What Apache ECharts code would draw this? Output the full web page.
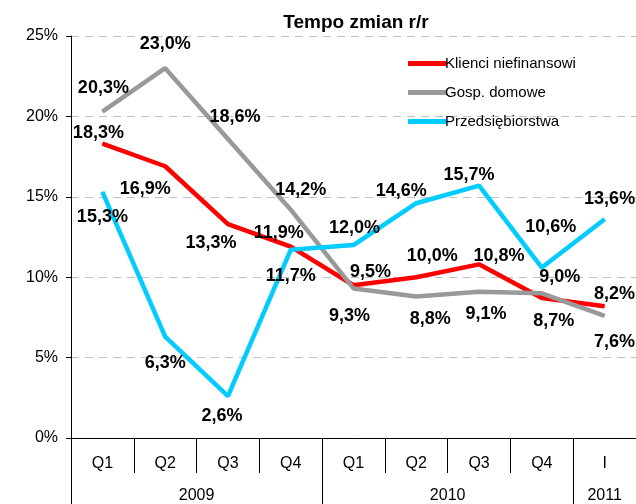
<!DOCTYPE html>
<html>
<head>
<meta charset="utf-8">
<script src="https://cdn.jsdelivr.net/npm/echarts@6/dist/echarts.min.js"></script>
<style>
  html, body { margin: 0; padding: 0; background: #fff; }
  #chart { width: 636px; height: 504px; }
</style>
</head>
<body>
<div id="chart"></div>
<script>
// kategorie i lata
const categories = ['Q1', 'Q2', 'Q3', 'Q4', 'Q1', 'Q2', 'Q3', 'Q4', 'I'];
const years = ['2009', '2010', '2011'];
const yearSpans = [4, 4, 1];

// dane (%)
const klienci = [18.3, 16.9, 13.3, 11.9, 9.5, 10.0, 10.8, 8.7, 8.2];
const gospDomowe = [20.3, 23.0, 18.6, 14.2, 9.3, 8.8, 9.1, 9.0, 7.6];
const przedsiebiorstwa = [15.3, 6.3, 2.6, 11.7, 12.0, 14.6, 15.7, 10.6, 13.6];

// przesunięcia etykiet [dx, dy] względem punktu
const klienciOffsets = [[-4, -11], [-20, 23], [-17, 19], [-12, -14], [17, -13], [16, -21], [20, -8], [12, 23], [10, -12]];
const gospOffsets = [[1, -24], [0, -24], [7, -22], [10, -20], [-4, 28], [14, 23], [7, 22], [18, -16], [10, 26]];
const przedsOffsets = [[0, 25], [0, 26], [-6, 20], [0, 26], [1, -17], [-15, -12], [-10, -11], [9, -41], [5, -20]];

// granice i środki lat na osi
let yearBounds = [0];
let yearCenters = [];
yearSpans.forEach(function (s) {
  let start = yearBounds[yearBounds.length - 1];
  yearCenters.push(start + s / 2);
  yearBounds.push(start + s);
});

const font = 'Liberation Sans, Arial, sans-serif';

function fmt(v) {
  return v.toFixed(1).replace('.', ',') + '%';
}

function makeSeries(name, values, offsets, color) {
  return {
    name: name,
    type: 'line',
    symbol: 'circle',
    symbolSize: 1,
    itemStyle: { color: color },
    lineStyle: { color: color, width: 4.5 },
    emphasis: { disabled: true },
    data: values.map(function (v, i) {
      return {
        value: v,
        label: { offset: offsets[i] }
      };
    }),
    label: {
      show: true,
      position: 'inside',
      color: '#000',
      fontFamily: font,
      fontWeight: 'bold',
      fontSize: 18,
      formatter: function (p) { return fmt(p.value); }
    }
  };
}

let chart = echarts.init(document.getElementById('chart'));
chart.setOption({
  animation: false,
  backgroundColor: '#fff',
  title: {
    text: 'Tempo zmian r/r',
    left: 351,
    top: 8,
    textAlign: 'center',
    textStyle: { fontFamily: font, fontWeight: 'bold', fontSize: 19, color: '#000' }
  },
  legend: {
    orient: 'vertical',
    left: 403,
    top: 51,
    icon: 'rect',
    itemWidth: 39,
    itemHeight: 5,
    itemGap: 14,
    textStyle: { fontFamily: font, fontSize: 15, color: '#000', padding: [0, 0, 0, -7] },
    data: ['Klienci niefinansowi', 'Gosp. domowe', 'Przedsiębiorstwa']
  },
  grid: { left: 71, right: 0, top: 36, bottom: 65 },
  xAxis: [{
    type: 'category',
    data: categories,
    boundaryGap: true,
    axisLine: { lineStyle: { color: '#000', width: 1 } },
    axisTick: { show: true, interval: 0, length: 35, lineStyle: { color: '#000' } },
    axisLabel: { interval: 0, margin: 18, fontFamily: font, fontSize: 16, color: '#000' }
  }, {
    type: 'value',
    min: 0,
    max: categories.length,
    position: 'bottom',
    axisLine: { show: false },
    splitLine: { show: false },
    axisTick: { show: true, length: 66, customValues: yearBounds, lineStyle: { color: '#000' } },
    axisLabel: {
      margin: 50,
      fontFamily: font,
      fontSize: 16,
      color: '#000',
      customValues: yearCenters,
      formatter: function (v) {
        let i = yearCenters.indexOf(v);
        return i >= 0 ? years[i] : '';
      }
    }
  }],
  yAxis: {
    type: 'value',
    min: 0,
    max: 25,
    interval: 5,
    axisLine: { show: true, lineStyle: { color: '#000' } },
    axisTick: { show: true, length: 5, lineStyle: { color: '#000' } },
    axisLabel: { margin: 13, fontFamily: font, fontSize: 16, color: '#000', formatter: '{value}%' },
    splitLine: { show: true, lineStyle: { color: '#c0c0c0', type: [8, 6], width: 1 } }
  },
  series: [
    makeSeries('Klienci niefinansowi', klienci, klienciOffsets, '#ff0000'),
    makeSeries('Gosp. domowe', gospDomowe, gospOffsets, '#999999'),
    makeSeries('Przedsiębiorstwa', przedsiebiorstwa, przedsOffsets, '#00ccff')
  ]
});
</script>
</body>
</html>
